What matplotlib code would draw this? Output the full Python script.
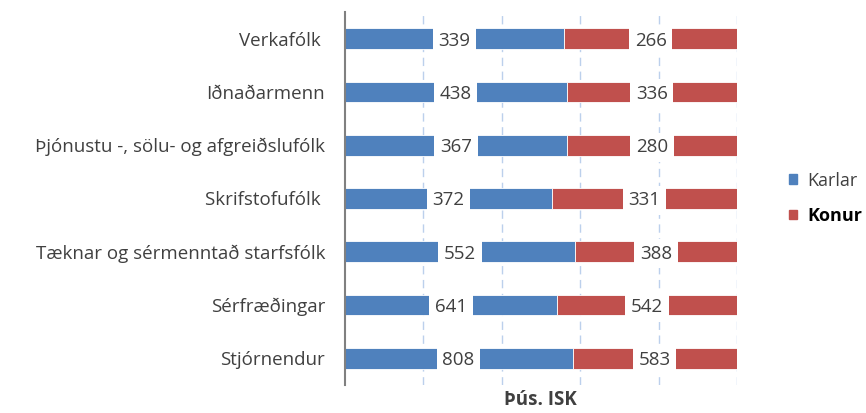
import numpy as np
import matplotlib
matplotlib.use("Agg")
import matplotlib.pyplot as plt
from matplotlib.patches import Patch

plt.rcParams['font.family'] = ['Open Sans', 'DejaVu Sans']

# Gögn
categories = ['Verkafólk ', 'Iðnaðarmenn', 'Þjónustu -, sölu- og afgreiðslufólk',
              'Skrifstofufólk ', 'Tæknar og sérmenntað starfsfólk', 'Sérfræðingar',
              'Stjórnendur']
karlar = [339, 438, 367, 372, 552, 641, 808]
konur = [266, 336, 280, 331, 388, 542, 583]

blue = '#4f81bd'
red = '#c0504d'
text_col = '#404040'

karlar_arr = np.array(karlar, dtype=float)
konur_arr = np.array(konur, dtype=float)
total = karlar_arr + konur_arr
k_share = karlar_arr / total * 100
w_share = konur_arr / total * 100

fig = plt.figure(figsize=(8.66, 4.13), dpi=100)
ax = fig.add_axes([0.398, 0.068, 0.453, 0.903])

y = np.arange(len(categories))
b1 = ax.barh(y, k_share, height=0.39, color=blue, edgecolor='white', linewidth=0.6)
b2 = ax.barh(y, w_share, left=k_share, height=0.39, color=red, edgecolor='white', linewidth=0.6)

# gildi í miðju hvers hluta
for bars, vals in ((b1, karlar), (b2, konur)):
    for rect, v in zip(bars, vals):
        cx = rect.get_x() + rect.get_width() / 2
        cy = rect.get_y() + rect.get_height() / 2
        ax.text(cx, cy, str(v), ha='center', va='center_baseline', fontsize=13.5,
                color=text_col,
                bbox=dict(boxstyle='square,pad=0.3', fc='white', ec='none'))

ax.set_xlim(0, 100)
ax.set_ylim(len(categories) - 0.5, -0.5)
ax.set_yticks(y)
ax.set_yticklabels(categories, fontsize=13.5, color=text_col)
ax.tick_params(axis='y', length=0, pad=14)
ax.set_xticks([20, 40, 60, 80, 100])
ax.tick_params(axis='x', length=0, labelbottom=False)
ax.grid(axis='x', color='#bcd0ec', linestyle=(0, (6, 4)), linewidth=1)
ax.set_axisbelow(True)
for s in ('top', 'right', 'bottom'):
    ax.spines[s].set_visible(False)
ax.spines['left'].set_color('#808080')
ax.spines['left'].set_linewidth(1.5)

ax.set_xlabel('Þús. ISK', fontsize=13.5, fontweight='bold', color=text_col, labelpad=4)

handles = [Patch(color=blue), Patch(color=red)]
leg = fig.legend(handles, ['Karlar', 'Konur'], loc='center left',
                 bbox_to_anchor=(0.892, 0.52), frameon=False, fontsize=13,
                 handlelength=0.45, handleheight=0.45, handletextpad=0.6,
                 labelspacing=0.95)
leg.get_texts()[0].set_color(text_col)
leg.get_texts()[1].set_color('black')
leg.get_texts()[1].set_fontweight('bold')

fig.savefig('out.png', dpi=100)
